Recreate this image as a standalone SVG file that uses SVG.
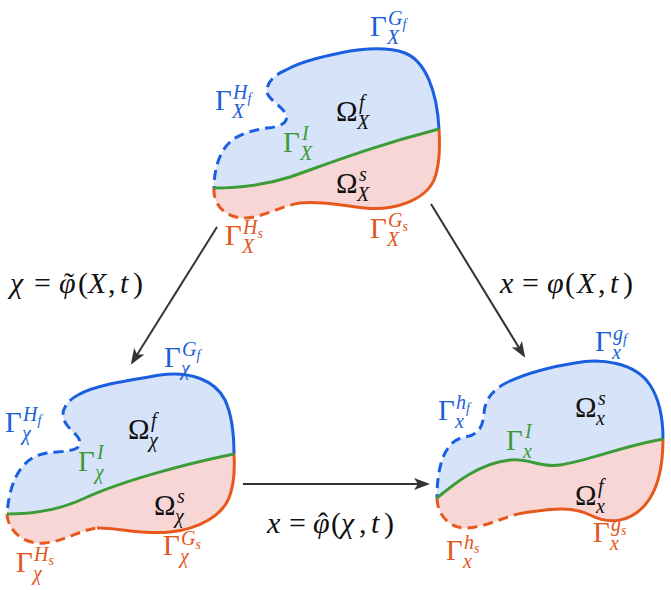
<svg xmlns="http://www.w3.org/2000/svg" width="671" height="590" viewBox="0 0 671 590" font-family="Liberation Serif, DejaVu Serif, serif">
<defs>
<marker id="ah" markerUnits="userSpaceOnUse" markerWidth="18" markerHeight="14" refX="8" refY="6" orient="auto">
<path d="M0,0 L16,6 L0,12 L4,6 z" fill="#333"/>
</marker>
<style>
.fb{fill:#d6e3f9;stroke:none}
.fp{fill:#f9d6d6;stroke:none}
.sb{fill:none;stroke:#1a5fe0;stroke-width:3}
.db{fill:none;stroke:#1a5fe0;stroke-width:3;stroke-dasharray:10 6}
.so{fill:none;stroke:#e8571c;stroke-width:3}
.do{fill:none;stroke:#e8571c;stroke-width:3;stroke-dasharray:10 6}
.gi{fill:none;stroke:#3c9c38;stroke-width:3}
.ar{fill:none;stroke:#333;stroke-width:2;marker-end:url(#ah)}
text{font-family:"Liberation Serif","DejaVu Serif",serif}
.m{font-size:29px}
.f{font-size:30px}
.p{font-size:20px;font-style:italic}
.q{font-size:14px;font-style:italic}
.i{font-style:italic}
.cb{fill:#1c5fd8}
.co{fill:#e2571e}
.cg{fill:#3d9a37}
.ck{fill:#111}
</style>
</defs>

<g id="shape-X">
<path class="fb" d="M214,188 C214,170 219,152 230,142 C240,133 255,130 267,128 C278,127 289,124 286,115 C283,106 268,100 267,92 C266,82 276,74 286,70 C300,62 320,57 340,53 C360,49 385,46 405,53 C425,61 437,90 439,129 C370,147 330,163 290,177 C265,185 240,188 214,188 Z"/>
<path class="fp" d="M214,188 C240,188 265,185 290,177 C330,163 370,147 439,129 C440,145 440,165 434,180 C425,200 395,211 365,208 C340,205 320,201 300,203 C280,206 260,219 243,218 C225,217 213,205 214,188 Z"/>
<path class="db" d="M286,70 C276,74 266,82 267,92 C268,100 283,106 286,115 C289,124 278,127 267,128 C255,130 240,133 230,142 C219,152 214,170 214,188"/>
<path class="sb" d="M286,70 C300,62 320,57 340,53 C360,49 385,46 405,53 C425,61 437,90 439,129"/>
<path class="do" d="M214,188 C213,205 225,217 243,218 C260,219 280,206 300,203"/>
<path class="so" d="M300,203 C320,201 340,205 365,208 C395,211 425,200 434,180 C440,165 440,145 439,129"/>
<path class="gi" d="M214,188 C240,188 265,185 290,177 C330,163 370,147 439,129"/>
<g class="cb"><text class="m" x="370" y="36">Γ</text><text class="p" x="388" y="25">G<tspan class="q" dy="4">f</tspan></text><text class="p" x="387" y="44">X</text></g>
<g class="cb"><text class="m" x="215" y="110">Γ</text><text class="p" x="233" y="99">H<tspan class="q" dy="4">f</tspan></text><text class="p" x="232" y="118">X</text></g>
<g class="ck"><text class="m" x="336" y="121">Ω</text><text class="p" x="359" y="109">f</text><text class="p" x="357" y="129">X</text></g>
<g class="cg"><text class="m" x="283" y="152">Γ</text><text class="p" x="302" y="140">I</text><text class="p" x="300" y="160">X</text></g>
<g class="ck"><text class="m" x="336" y="193">Ω</text><text class="p" x="359" y="181">s</text><text class="p" x="357" y="201">X</text></g>
<g class="co"><text class="m" x="225" y="245">Γ</text><text class="p" x="243" y="234">H<tspan class="q" dy="4">s</tspan></text><text class="p" x="242" y="253">X</text></g>
<g class="co"><text class="m" x="370" y="238">Γ</text><text class="p" x="388" y="227">G<tspan class="q" dy="4">s</tspan></text><text class="p" x="387" y="246">X</text></g>
</g>

<g id="shape-chi">
<path class="fb" d="M7,514 C10,475 25,456 47,453 C62,451 80,452 80,443 C80,435 68,430 64,420 C60,410 68,400 78,395 C95,385 130,380 160,375 C190,371 215,380 225,400 C232,415 234,435 234,454 C180,465 120,482 85,498 C60,510 35,514 7,514 Z"/>
<path class="fp" d="M7,514 C35,514 60,510 85,498 C120,482 180,465 234,454 C235,470 234,485 229,498 C222,515 200,529 170,532 C140,535 115,527 97,528 C80,530 65,541 45,543 C25,545 8,532 7,514 Z"/>
<path class="db" d="M78,395 C68,400 60,410 64,420 C68,430 80,435 80,443 C80,452 62,451 47,453 C25,456 10,475 7,514"/>
<path class="sb" d="M78,395 C95,385 130,380 160,375 C190,371 215,380 225,400 C232,415 234,435 234,454"/>
<path class="do" d="M7,514 C8,532 25,545 45,543 C65,541 80,530 97,528"/>
<path class="so" d="M97,528 C115,527 140,535 170,532 C200,529 222,515 229,498 C234,485 235,470 234,454"/>
<path class="gi" d="M7,514 C35,514 60,510 85,498 C120,482 180,465 234,454"/>
<g class="cb"><text class="m" x="164" y="367">Γ</text><text class="p" x="182" y="356">G<tspan class="q" dy="4">f</tspan></text><text class="p" x="181" y="375">χ</text></g>
<g class="cb"><text class="m" x="5" y="432">Γ</text><text class="p" x="23" y="421">H<tspan class="q" dy="4">f</tspan></text><text class="p" x="22" y="440">χ</text></g>
<g class="ck"><text class="m" x="128" y="439">Ω</text><text class="p" x="151" y="427">f</text><text class="p" x="149" y="447">χ</text></g>
<g class="cg"><text class="m" x="78" y="471">Γ</text><text class="p" x="97" y="459">I</text><text class="p" x="95" y="479">χ</text></g>
<g class="ck"><text class="m" x="154" y="515">Ω</text><text class="p" x="177" y="503">s</text><text class="p" x="175" y="523">χ</text></g>
<g class="co"><text class="m" x="163" y="555">Γ</text><text class="p" x="181" y="545">G<tspan class="q" dy="4">s</tspan></text><text class="p" x="180" y="563">χ</text></g>
<g class="co"><text class="m" x="16" y="572">Γ</text><text class="p" x="34" y="561">H<tspan class="q" dy="4">s</tspan></text><text class="p" x="33" y="580">χ</text></g>
</g>

<g id="shape-x">
<path class="fb" d="M437,498 C437,465 445,440 465,437 C480,435 483,425 484,413 C485,398 495,388 508,382 C525,374 550,367 575,363 C600,358 635,362 650,385 C660,400 663,420 663,439 C620,447 590,460 560,465 C540,468 530,458 510,460 C480,463 455,483 437,498 Z"/>
<path class="fp" d="M437,498 C455,483 480,463 510,460 C530,458 540,468 560,465 C590,460 620,447 663,439 C663,465 658,490 645,505 C630,522 610,525 590,515 C570,505 545,510 523,513 C505,516 485,528 465,528 C450,528 437,515 437,498 Z"/>
<path class="db" d="M508,382 C495,388 485,398 484,413 C483,425 480,435 465,437 C445,440 437,465 437,498"/>
<path class="sb" d="M508,382 C525,374 550,367 575,363 C600,358 635,362 650,385 C660,400 663,420 663,439"/>
<path class="do" d="M437,498 C437,515 450,528 465,528 C485,528 505,516 523,513"/>
<path class="so" d="M523,513 C545,510 570,505 590,515 C610,525 630,522 645,505 C658,490 663,465 663,439"/>
<path class="gi" d="M437,498 C455,483 480,463 510,460 C530,458 540,468 560,465 C590,460 620,447 663,439"/>
<g class="cb"><text class="m" x="595" y="351">Γ</text><text class="p" x="613" y="340">g<tspan class="q" dy="4">f</tspan></text><text class="p" x="612" y="359">x</text></g>
<g class="cb"><text class="m" x="438" y="420">Γ</text><text class="p" x="456" y="409">h<tspan class="q" dy="4">f</tspan></text><text class="p" x="455" y="428">x</text></g>
<g class="ck"><text class="m" x="575" y="417">Ω</text><text class="p" x="598" y="405">s</text><text class="p" x="596" y="425">x</text></g>
<g class="cg"><text class="m" x="506" y="450">Γ</text><text class="p" x="525" y="438">I</text><text class="p" x="523" y="458">x</text></g>
<g class="ck"><text class="m" x="575" y="505">Ω</text><text class="p" x="598" y="493">f</text><text class="p" x="596" y="513">x</text></g>
<g class="co"><text class="m" x="593" y="542">Γ</text><text class="p" x="611" y="531">g<tspan class="q" dy="4">s</tspan></text><text class="p" x="610" y="550">x</text></g>
<g class="co"><text class="m" x="446" y="560">Γ</text><text class="p" x="464" y="549">h<tspan class="q" dy="4">s</tspan></text><text class="p" x="463" y="568">x</text></g>
</g>

<g id="connectors">
<line class="ar" x1="217" y1="227" x2="135" y2="358"/>
<line class="ar" x1="431" y1="204" x2="521" y2="351"/>
<line class="ar" x1="243" y1="484" x2="422" y2="484"/>
<g class="ck">
<text class="f" y="293"><tspan class="i" x="10">χ</tspan><tspan x="34">=</tspan><tspan class="i" x="59">φ</tspan><tspan x="78">(</tspan><tspan class="i" x="88">X</tspan><tspan x="108">,</tspan><tspan class="i" x="120">t</tspan><tspan x="133">)</tspan></text>
<text class="f" x="64" y="293">˜</text>
<text class="f" y="293"><tspan class="i" x="500">x</tspan><tspan x="522">=</tspan><tspan class="i" x="547">φ</tspan><tspan x="565">(</tspan><tspan class="i" x="577">X</tspan><tspan x="598">,</tspan><tspan class="i" x="610">t</tspan><tspan x="623">)</tspan></text>
<text class="f" y="533"><tspan class="i" x="267">x</tspan><tspan x="289">=</tspan><tspan class="i" x="313">φ</tspan><tspan x="331">(</tspan><tspan class="i" x="341">χ</tspan><tspan x="359">,</tspan><tspan class="i" x="371">t</tspan><tspan x="384">)</tspan></text>
<text class="f" x="318" y="533">ˆ</text>
</g>
</g>
</svg>
